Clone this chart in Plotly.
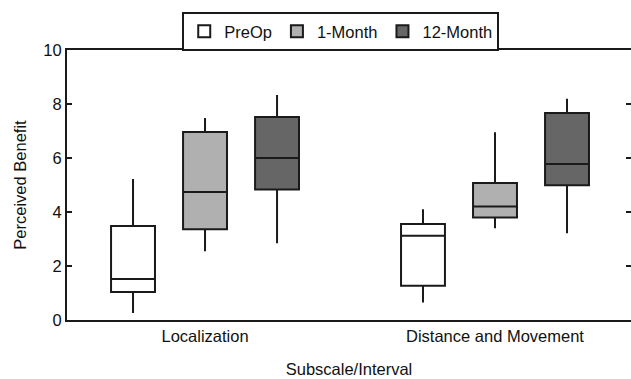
import plotly.graph_objects as go

categories = ["Localization", "Distance and Movement"]
series = ["PreOp", "1-Month", "12-Month"]
colors = ["#ffffff", "#b0b0b0", "#666666"]

q1 = {"PreOp": [1.04, 1.27], "1-Month": [3.36, 3.80], "12-Month": [4.83, 4.99]}
median = {"PreOp": [1.52, 3.12], "1-Month": [4.74, 4.20], "12-Month": [6.00, 5.78]}
q3 = {"PreOp": [3.48, 3.56], "1-Month": [6.96, 5.07], "12-Month": [7.52, 7.67]}
low = {"PreOp": [0.26, 0.65], "1-Month": [2.55, 3.40], "12-Month": [2.84, 3.21]}
high = {"PreOp": [5.22, 4.10], "1-Month": [7.48, 6.95], "12-Month": [8.33, 8.19]}

fig = go.Figure()
for s, c in zip(series, colors):
    fig.add_trace(go.Box(
        name=s, x=categories, q1=q1[s], median=median[s], q3=q3[s],
        lowerfence=low[s], upperfence=high[s],
        fillcolor=c, line=dict(color="#1a1a1a", width=2),
        whiskerwidth=0, boxpoints=False, hoverinfo="skip",
    ))

font = "Liberation Sans, Arial, sans-serif"
fig.update_layout(
    width=631, height=379,
    margin=dict(l=67, r=0, t=50, b=59, autoexpand=False),
    paper_bgcolor="white", plot_bgcolor="white",
    boxmode="group", boxgap=0.255, boxgroupgap=0.39,
    font=dict(family=font, size=16.5, color="#111"),
    showlegend=True,
    legend=dict(orientation="h", xref="container", x=0.54, xanchor="center",
                yref="container", y=0.968, yanchor="top",
                bordercolor="#1a1a1a", borderwidth=2, font=dict(size=16.5),
                itemwidth=30, tracegroupgap=0),
    xaxis=dict(type="category", range=[-0.476, 1.469], showline=True, linecolor="#1a1a1a",
               linewidth=2, mirror=True, ticks="", showgrid=False, zeroline=False,
               automargin=False, tickfont=dict(size=16.5),
               title=dict(text="Subscale/Interval", standoff=20, font=dict(size=16.5))),
    yaxis=dict(range=[0, 10], dtick=2, showline=True, linecolor="#1a1a1a", linewidth=2,
               mirror="ticks", ticks="inside", ticklen=5, tickwidth=2, tickcolor="#1a1a1a",
               showgrid=False, zeroline=False, tickfont=dict(size=16.5), automargin=False,
               title=dict(text="Perceived Benefit", standoff=13, font=dict(size=16.5))),
)
fig.write_html("out.html", config={"displayModeBar": False},
               post_script="document.body.style.margin='0px';")
